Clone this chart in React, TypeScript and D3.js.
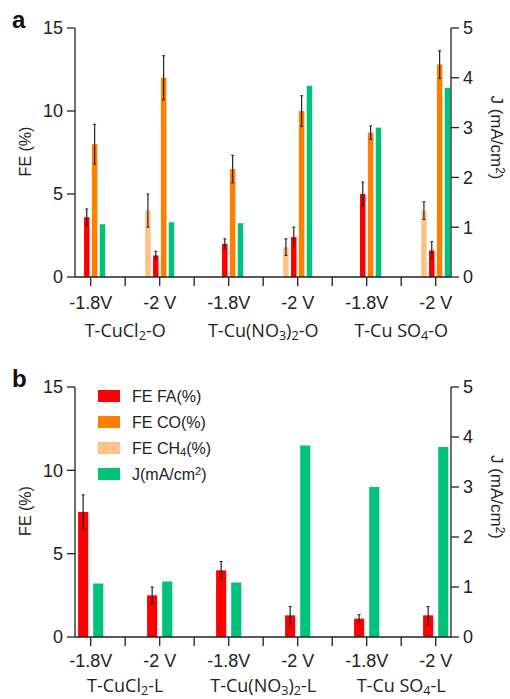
import { useRef, useEffect } from 'react';
import * as d3 from 'd3';

// ---- data -------------------------------------------------------------------
const categories = ['CuCl2 -1.8V', 'CuCl2 -2V', 'NO3 -1.8V', 'NO3 -2V', 'SO4 -1.8V', 'SO4 -2V'];
const voltageLabels = ['-1.8V', '-2 V', '-1.8V', '-2 V', '-1.8V', '-2 V'];

// panel a: oxide-derived (-O)
const faA = [3.6, 1.3, 2.0, 2.4, 5.0, 1.6];
const faErrA = [0.5, 0.25, 0.3, 0.6, 0.72, 0.53];
const coA = [8.0, 12.0, 6.5, 10.0, 8.7, 12.8];
const coErrA = [1.2, 1.33, 0.83, 0.92, 0.4, 0.83];
const ch4A = [0, 4.0, 0, 1.8, 0, 4.0];
const ch4ErrA = [0, 1.0, 0, 0.5, 0, 0.53];
const jA = [1.06, 1.1, 1.08, 3.84, 3.0, 3.8];

// panel b: (-L)
const faB = [7.5, 2.5, 4.0, 1.3, 1.1, 1.3];
const faErrB = [1.03, 0.5, 0.53, 0.53, 0.24, 0.53];
const jB = [1.07, 1.11, 1.09, 3.83, 3.0, 3.8];

const feTicks = [0, 5, 10, 15];
const jTicks = [0, 1, 2, 3, 4, 5];

type Part = { t: string; sub?: boolean; sup?: boolean };
const groupsA: Part[][] = [
  [{ t: 'T-CuCl' }, { t: '2', sub: true }, { t: '-O' }],
  [{ t: 'T-Cu(NO' }, { t: '3', sub: true }, { t: ')' }, { t: '2', sub: true }, { t: '-O' }],
  [{ t: 'T-Cu SO' }, { t: '4', sub: true }, { t: '-O' }],
];
const groupsB: Part[][] = [
  [{ t: 'T-CuCl' }, { t: '2', sub: true }, { t: '-L' }],
  [{ t: 'T-Cu(NO' }, { t: '3', sub: true }, { t: ')' }, { t: '2', sub: true }, { t: '-L' }],
  [{ t: 'T-Cu SO' }, { t: '4', sub: true }, { t: '-L' }],
];

const legendItems: { key: string; parts: Part[] }[] = [
  { key: 'FA', parts: [{ t: 'FE FA(%)' }] },
  { key: 'CO', parts: [{ t: 'FE CO(%)' }] },
  { key: 'CH4', parts: [{ t: 'FE CH' }, { t: '4', sub: true }, { t: '(%)' }] },
  { key: 'J', parts: [{ t: 'J(mA/cm' }, { t: '2', sup: true }, { t: ')' }] },
];

const COLORS: Record<string, string> = {
  FA: '#ff0000',
  CO: '#ff8000',
  CH4: '#ffc387',
  J: '#00c27a',
};

interface Series {
  key: string;
  values: number[];
  errors?: number[];
  axis: 'fe' | 'j';
}

const seriesA: Series[] = [
  { key: 'CH4', values: ch4A, errors: ch4ErrA, axis: 'fe' },
  { key: 'FA', values: faA, errors: faErrA, axis: 'fe' },
  { key: 'CO', values: coA, errors: coErrA, axis: 'fe' },
  { key: 'J', values: jA, axis: 'j' },
];
const seriesB: Series[] = [
  { key: 'FA', values: faB, errors: faErrB, axis: 'fe' },
  { key: 'J', values: jB, axis: 'j' },
];

const TICK_FONT = '"Liberation Sans", Arial, sans-serif';
const GROUP_FONT = '"Open Sans", sans-serif';

function addParts(
  text: d3.Selection<SVGTextElement, unknown, null, undefined>,
  parts: Part[],
  size: number
) {
  parts.forEach((p) => {
    const ts = text.append('tspan').text(p.t);
    if (p.sub) ts.attr('font-size', size * 0.7).attr('baseline-shift', '-20%');
    if (p.sup) ts.attr('font-size', size * 0.7).attr('baseline-shift', '45%');
  });
}

interface PanelOpts {
  letter: string;
  top: number; // y of max value
  bottom: number; // y of zero
  series: Series[];
  groupSpan: number; // half width of a bar cluster
  barPad: number;
  groups: Part[][];
  voltY: number;
  groupY: number;
  legend?: boolean;
}

function drawPanel(svg: d3.Selection<SVGSVGElement, unknown, null, undefined>, o: PanelOpts) {
  const left = 75;
  const right = 451;
  const g = svg.append('g');

  const x = d3.scaleBand<string>().domain(categories).range([56.2, 470.2]);
  const inner = d3
    .scaleBand<string>()
    .domain(o.series.map((s) => s.key))
    .range([-o.groupSpan, o.groupSpan])
    .paddingInner(o.barPad)
    .paddingOuter(o.barPad / 2);
  const yFe = d3.scaleLinear().domain([0, 15]).range([o.bottom, o.top]);
  const yJ = d3.scaleLinear().domain([0, 5]).range([o.bottom, o.top]);
  const cx = (c: string) => (x(c) || 0) + x.bandwidth() / 2;

  // bars
  o.series.forEach((s) => {
    const y = s.axis === 'fe' ? yFe : yJ;
    const data = categories.map((c, i) => ({ c, v: s.values[i], e: s.errors ? s.errors[i] : 0 }));
    g.selectAll(null)
      .data(data.filter((d) => d.v > 0))
      .join('rect')
      .attr('x', (d) => cx(d.c) + (inner(s.key) || 0))
      .attr('y', (d) => y(d.v))
      .attr('width', inner.bandwidth())
      .attr('height', (d) => y(0) - y(d.v))
      .attr('fill', COLORS[s.key]);

    const errs = data.filter((d) => d.v > 0 && d.e > 0);
    const ex = (d: { c: string }) => cx(d.c) + (inner(s.key) || 0) + inner.bandwidth() / 2;
    g.selectAll(null)
      .data(errs)
      .join('line')
      .attr('x1', ex)
      .attr('x2', ex)
      .attr('y1', (d) => y(d.v + d.e))
      .attr('y2', (d) => y(d.v - d.e))
      .attr('stroke', '#222')
      .attr('stroke-width', 1.2);
    [1, -1].forEach((sign) => {
      g.selectAll(null)
        .data(errs)
        .join('line')
        .attr('x1', (d) => ex(d) - 1.5)
        .attr('x2', (d) => ex(d) + 1.5)
        .attr('y1', (d) => y(d.v + sign * d.e))
        .attr('y2', (d) => y(d.v + sign * d.e))
        .attr('stroke', '#222')
        .attr('stroke-width', 1);
    });
  });

  const axisColor = '#222';
  // left axis
  g.append('line')
    .attr('x1', left).attr('x2', left)
    .attr('y1', o.top).attr('y2', o.bottom)
    .attr('stroke', axisColor).attr('stroke-width', 1.3);
  g.selectAll(null)
    .data(feTicks)
    .join('line')
    .attr('x1', left - 8).attr('x2', left)
    .attr('y1', (d) => yFe(d)).attr('y2', (d) => yFe(d))
    .attr('stroke', axisColor).attr('stroke-width', 1.3);
  g.selectAll(null)
    .data(feTicks)
    .join('text')
    .attr('x', left - 12)
    .attr('y', (d) => yFe(d))
    .attr('dy', '0.36em')
    .attr('text-anchor', 'end')
    .attr('font-family', TICK_FONT)
    .attr('font-size', 18)
    .attr('fill', '#222')
    .text((d) => d);

  // right axis
  g.append('line')
    .attr('x1', right).attr('x2', right)
    .attr('y1', o.top).attr('y2', o.bottom)
    .attr('stroke', axisColor).attr('stroke-width', 1.3);
  g.selectAll(null)
    .data(jTicks)
    .join('line')
    .attr('x1', right).attr('x2', right + 8)
    .attr('y1', (d) => yJ(d)).attr('y2', (d) => yJ(d))
    .attr('stroke', axisColor).attr('stroke-width', 1.3);
  g.selectAll(null)
    .data(jTicks)
    .join('text')
    .attr('x', right + 12)
    .attr('y', (d) => yJ(d))
    .attr('dy', '0.36em')
    .attr('font-family', TICK_FONT)
    .attr('font-size', 18)
    .attr('fill', '#222')
    .text((d) => d);

  // x axis
  g.append('line')
    .attr('x1', left).attr('x2', right)
    .attr('y1', o.bottom).attr('y2', o.bottom)
    .attr('stroke', axisColor).attr('stroke-width', 1.3);
  g.selectAll(null)
    .data(categories)
    .join('line')
    .attr('x1', cx).attr('x2', cx)
    .attr('y1', o.bottom).attr('y2', o.bottom + 9)
    .attr('stroke', axisColor).attr('stroke-width', 1.3);
  g.selectAll(null)
    .data(categories.slice(1))
    .join('line')
    .attr('x1', (d) => x(d) || 0).attr('x2', (d) => x(d) || 0)
    .attr('y1', o.bottom).attr('y2', o.bottom + 9)
    .attr('stroke', axisColor).attr('stroke-width', 1.3);
  g.selectAll(null)
    .data(categories)
    .join('text')
    .attr('x', cx)
    .attr('y', o.voltY)
    .attr('text-anchor', 'middle')
    .attr('font-family', TICK_FONT)
    .attr('font-size', 18)
    .attr('fill', '#222')
    .text((_, i) => voltageLabels[i]);

  // group labels
  o.groups.forEach((parts, gi) => {
    const mid = (cx(categories[gi * 2]) + cx(categories[gi * 2 + 1])) / 2;
    const t = g.append('text')
      .attr('x', mid)
      .attr('y', o.groupY)
      .attr('text-anchor', 'middle')
      .attr('font-family', GROUP_FONT)
      .attr('font-size', 18)
      .attr('fill', '#222');
    addParts(t, parts, 18);
  });

  // axis titles
  const midY = (o.top + o.bottom) / 2;
  g.append('text')
    .attr('transform', `translate(25,${midY - 1}) rotate(-90)`)
    .attr('text-anchor', 'middle')
    .attr('dy', '0.36em')
    .attr('font-family', TICK_FONT)
    .attr('font-size', 16)
    .attr('fill', '#222')
    .text('FE (%)');
  const jt = g.append('text')
    .attr('transform', `translate(497,${midY - 15}) rotate(90)`)
    .attr('text-anchor', 'middle')
    .attr('dy', '0.36em')
    .attr('font-family', TICK_FONT)
    .attr('font-size', 17)
    .attr('fill', '#222');
  addParts(jt, [{ t: 'J (mA/cm' }, { t: '2', sup: true }, { t: ')' }], 17);

  // panel letter
  g.append('text')
    .attr('x', 12)
    .attr('y', o.top)
    .attr('font-family', TICK_FONT)
    .attr('font-weight', 'bold')
    .attr('font-size', 24)
    .attr('fill', '#111')
    .text(o.letter);

  if (o.legend) {
    const lg = g.append('g');
    legendItems.forEach((item, i) => {
      const ly = o.top + 9 + i * 26;
      lg.append('rect')
        .attr('x', 98).attr('y', ly - 6)
        .attr('width', 22).attr('height', 12)
        .attr('fill', COLORS[item.key]);
      const t = lg.append('text')
        .attr('x', 132).attr('y', ly)
        .attr('dy', '0.36em')
        .attr('font-family', TICK_FONT)
        .attr('font-size', 16)
        .attr('fill', '#222');
      addParts(t, item.parts, 16);
    });
  }
}

export default function App() {
  const svgRef = useRef<SVGSVGElement>(null);

  useEffect(() => {
    if (!svgRef.current) return;
    const svg = d3.select(svgRef.current);
    svg.selectAll('*').remove();

    drawPanel(svg, {
      letter: 'a',
      top: 28,
      bottom: 277,
      series: seriesA,
      groupSpan: 15.7,
      barPad: 0.3,
      groups: groupsA,
      voltY: 308.5,
      groupY: 337,
    });
    drawPanel(svg, {
      letter: 'b',
      top: 387,
      bottom: 637,
      series: seriesB,
      groupSpan: 15.1,
      barPad: 0.33,
      groups: groupsB,
      voltY: 667,
      groupY: 692,
      legend: true,
    });
  }, []);

  return (
    <svg
      ref={svgRef}
      width={510}
      height={699}
      style={{ position: 'absolute', left: 0, top: 0, background: '#fff' }}
    />
  );
}
